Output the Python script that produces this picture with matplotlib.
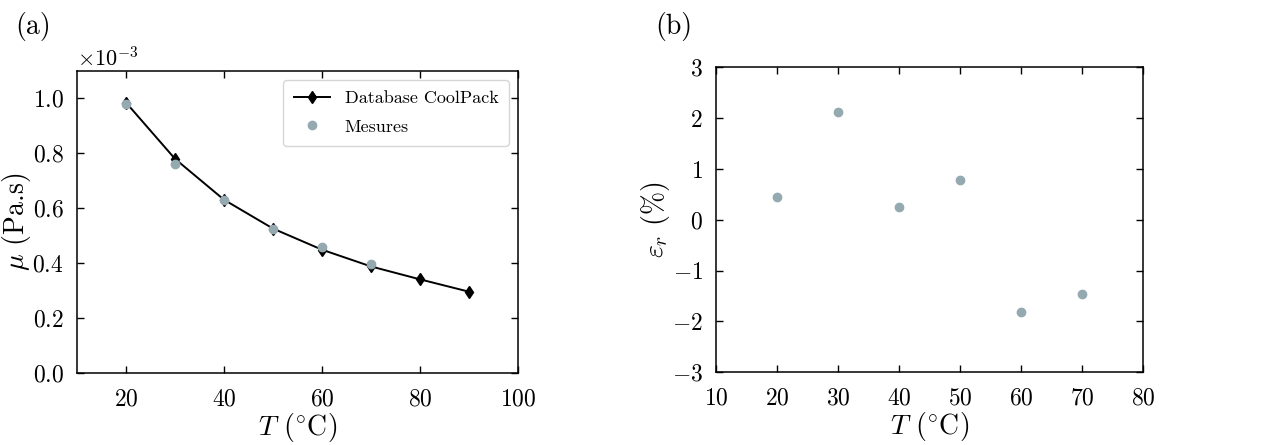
#!/usr/bin/env python3

import numpy as np
import matplotlib
matplotlib.use("Agg")
import matplotlib.pyplot as plt

# viscosity data (Pa.s)
temp_db = [20, 30, 40, 50, 60, 70, 80, 90]
mu_db = [0.985e-3, 0.780e-3, 0.631e-3, 0.526e-3, 0.449e-3, 0.388e-3, 0.341e-3, 0.296e-3]

temp_mes = [20, 30, 40, 50, 60, 70]
mu_mes = [0.981e-3, 0.762e-3, 0.631e-3, 0.525e-3, 0.459e-3, 0.397e-3]

# relative error (%)
err_rel = [0.44, 2.12, 0.26, 0.79, -1.81, -1.45]

GREY = "#95a9b1"

plt.rcParams["font.family"] = "serif"
plt.rcParams["font.serif"] = ["cmr10"]
plt.rcParams["mathtext.fontset"] = "cm"
plt.rcParams["axes.formatter.use_mathtext"] = True
plt.rcParams["axes.unicode_minus"] = True
plt.rcParams["xtick.direction"] = "in"
plt.rcParams["ytick.direction"] = "in"
plt.rcParams["xtick.top"] = True
plt.rcParams["ytick.right"] = True


def style_ax(ax):
    ax.tick_params(labelsize=17, length=5, width=1)
    ax.tick_params(axis="x", pad=11)
    ax.tick_params(axis="y", pad=9.5)
    for s in ax.spines.values():
        s.set_linewidth(1.1)


def main():
    fig = plt.figure(figsize=(12.64, 4.45), dpi=100)
    ax1 = fig.add_axes([0.0609, 0.1618, 0.349, 0.6787])
    ax2 = fig.add_axes([0.5666, 0.1633, 0.3378, 0.6854])

    # (a) viscosity
    ax1.plot(temp_db, mu_db, color="black", marker="d", markersize=6.5,
             lw=1.4, label="Database CoolPack")
    ax1.plot(temp_mes, mu_mes, linestyle="none", marker="o", markersize=6,
             color=GREY, label="Mesures")
    ax1.set_xlim(10, 100)
    ax1.set_ylim(0, 1.1e-3)
    ax1.set_xticks([20, 40, 60, 80, 100])
    ax1.set_yticks(np.arange(0, 1.01e-3, 0.2e-3))
    ax1.ticklabel_format(axis="y", style="sci", scilimits=(0, 0))
    ax1.yaxis.get_offset_text().set_fontsize(16)
    ax1.set_xlabel(r"$T$ ($^{\circ}$C)", fontsize=20, labelpad=0.5)
    ax1.set_ylabel(r"$\mu$ (Pa.s)", fontsize=20)
    ax1.yaxis.set_label_coords(-0.10, 0.5)
    ax1.legend(loc="upper right", fontsize=13, handlelength=2.0,
               labelspacing=0.7, borderpad=0.6)
    style_ax(ax1)

    # (b) relative error
    ax2.plot(temp_mes, err_rel, linestyle="none", marker="o", markersize=6,
             color=GREY)
    ax2.set_xlim(10, 80)
    ax2.set_ylim(-3, 3)
    ax2.set_xticks(np.arange(10, 81, 10))
    ax2.set_yticks(np.arange(-3, 4, 1))
    ax2.set_xlabel(r"$T$ ($^{\circ}$C)", fontsize=20, labelpad=0.5)
    ax2.set_ylabel(r"$\varepsilon_r$ (%)", fontsize=20)
    ax2.yaxis.set_label_coords(-0.103, 0.5)
    style_ax(ax2)

    fig.text(0.012, 0.94, "(a)", fontsize=20, va="center")
    fig.text(0.518, 0.94, "(b)", fontsize=20, va="center")

    fig.savefig("out.png", dpi=100)


if __name__ == "__main__":
    main()
